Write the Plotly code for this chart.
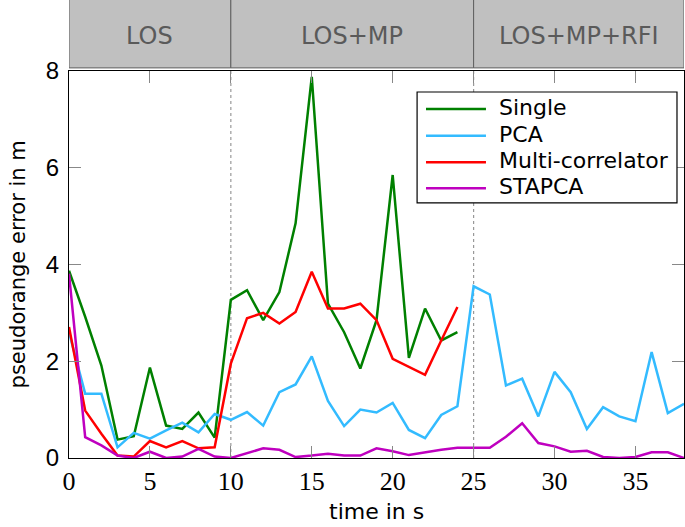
import plotly.graph_objects as go

time = list(range(0, 39))

single = [3.87, 2.92, 1.91, 0.38, 0.45, 1.87, 0.67, 0.60, 0.94, 0.42, 3.27, 3.47, 2.85, 3.43, 4.85,
          7.88, 3.19, 2.60, 1.85, 2.85, 5.85, 2.07, 3.09, 2.43, 2.60]
pca = [2.6, 1.33, 1.33, 0.22, 0.52, 0.40, 0.57, 0.73, 0.53, 0.91, 0.79, 0.95, 0.67, 1.36, 1.52,
       2.10, 1.18, 0.66, 1.0, 0.94, 1.14, 0.58, 0.41, 0.89, 1.07, 3.55, 3.38, 1.50, 1.64, 0.86,
       1.78, 1.36, 0.60, 1.05, 0.86, 0.76, 2.19, 0.93, 1.12]
multi = [2.71, 0.98, 0.50, 0.05, 0.03, 0.35, 0.22, 0.35, 0.20, 0.22, 1.95, 2.89, 3.0, 2.78, 3.02,
         3.85, 3.09, 3.09, 3.19, 2.85, 2.05, 1.88, 1.72, 2.43, 3.12]
stapca = [3.81, 0.43, 0.26, 0.05, 0.0, 0.13, 0.0, 0.03, 0.19, 0.03, 0.0, 0.10, 0.20, 0.17, 0.02,
          0.05, 0.09, 0.05, 0.05, 0.20, 0.14, 0.06, 0.12, 0.17, 0.21, 0.21, 0.21, 0.44, 0.72, 0.31,
          0.24, 0.13, 0.15, 0.02, 0.0, 0.02, 0.12, 0.12, 0.0]

segments = ["LOS", "LOS+MP", "LOS+MP+RFI"]
seg_bounds = [0, 10, 25, 38]

series = [("Single", single, "#008000"),
          ("PCA", pca, "#33bbff"),
          ("Multi-correlator", multi, "#ff0000"),
          ("STAPCA", stapca, "#bf00bf")]

fig = go.Figure()
for name, vals, col in series:
    fig.add_trace(go.Scatter(x=time[:len(vals)], y=vals, mode="lines", name=name,
                             line=dict(color=col, width=2.5), showlegend=False))

# dotted segment borders
for b in seg_bounds[1:-1]:
    fig.add_shape(type="line", xref="x", yref="y", x0=b, x1=b, y0=0, y1=8,
                  line=dict(color="#999999", width=1.2, dash="dot"), layer="below")

# header band with scenario names
for i, lab in enumerate(segments):
    x0, x1 = seg_bounds[i], seg_bounds[i + 1]
    fig.add_shape(type="rect", xref="x", yref="paper", x0=x0, x1=x1, y0=1.008, y1=1.19,
                  fillcolor="#c0c0c0", line=dict(color="#606060", width=1))
    fig.add_annotation(x=(x0 + x1) / 2, y=1.09, xref="x", yref="paper", text=lab,
                       showarrow=False, yanchor="middle",
                       font=dict(family="DejaVu Sans", size=24, color="#5a5a5a"))

# legend box drawn by hand (longer line samples than plotly's legend)
fig.add_shape(type="rect", xref="paper", yref="paper", x0=0.566, x1=0.9886, y0=0.659, y1=0.9457,
              fillcolor="white", line=dict(color="black", width=1.2))
row_y = [0.9018, 0.8328, 0.7641, 0.6969]
for (name, vals, col), ry in zip(series, row_y):
    fig.add_shape(type="line", xref="paper", yref="paper", x0=0.5805, x1=0.678, y0=ry, y1=ry,
                  line=dict(color=col, width=2.5))
    fig.add_annotation(x=0.6964, y=ry + 0.004, xref="paper", yref="paper", text=name, showarrow=False,
                       xanchor="left", yanchor="middle", font=dict(family="DejaVu Sans", size=22))

# axis titles
fig.add_annotation(x=0.5, y=-0.1395, xref="paper", yref="paper", text="time in s",
                   showarrow=False, yanchor="middle", font=dict(family="DejaVu Sans", size=22))
fig.add_annotation(x=-0.083, y=0.5, xref="paper", yref="paper", text="pseudorange error in m",
                   showarrow=False, textangle=-90, xanchor="center", yanchor="middle",
                   font=dict(family="DejaVu Sans", size=21))

fig.update_layout(
    width=685, height=527,
    margin=dict(l=69, r=1, t=71, b=69),
    plot_bgcolor="white", paper_bgcolor="white",
    font=dict(family="Liberation Sans", color="black"),
)
fig.update_xaxes(range=[0, 38], tickvals=[0, 5, 10, 15, 20, 25, 30, 35], automargin=False,
                 ticks="inside", ticklen=12, tickcolor="#888888", showgrid=False, zeroline=False,
                 showline=True, linecolor="black", linewidth=1, mirror="ticks",
                 tickfont=dict(family="Liberation Serif", size=26))
fig.update_yaxes(range=[0, 8], tickvals=[0, 2, 4, 6, 8], automargin=False,
                 ticks="inside", ticklen=12, tickcolor="#888888", showgrid=False, zeroline=False,
                 showline=True, linecolor="black", linewidth=1, mirror="ticks",
                 tickfont=dict(size=24), ticklabelstandoff=4)

fig.write_html("out.html", config={"displayModeBar": False},
               post_script="document.body.style.margin='0';")
